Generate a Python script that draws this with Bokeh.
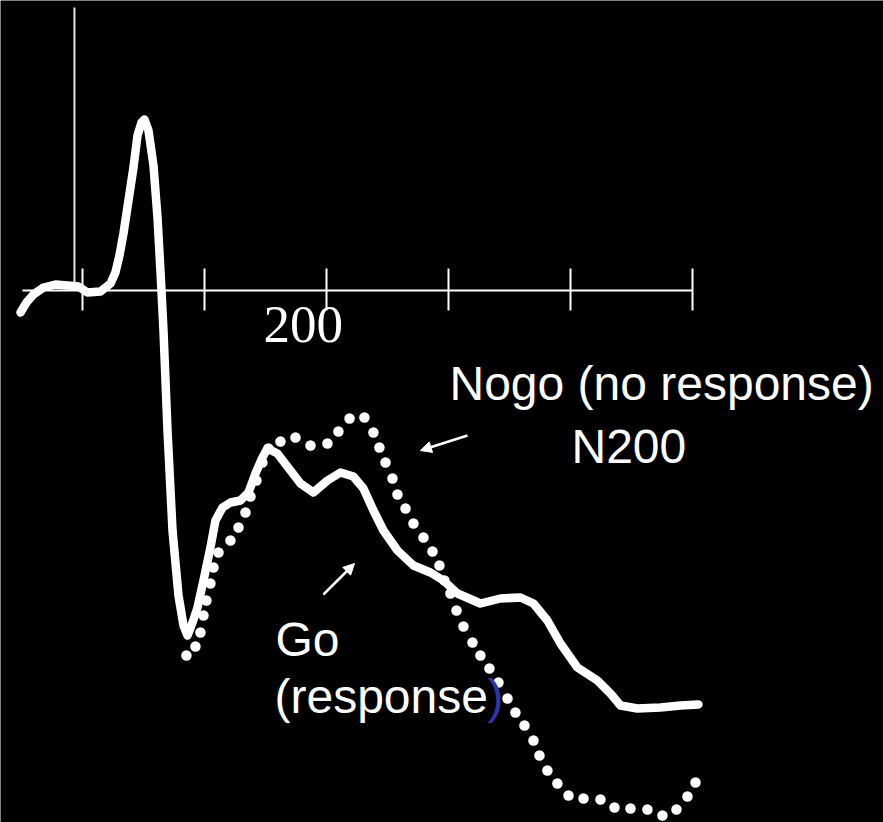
from bokeh.plotting import figure
from bokeh.models import (Range1d, LinearAxis, FixedTicker, Label, Arrow,
                          NormalHead, CustomLabelingPolicy)
from bokeh.embed import file_html
from bokeh.resources import INLINE

# Grand-average ERP waveforms (time in ms from stimulus onset, amplitude in µV)
time_go = [-50.8, -45.9, -40.2, -32.0, -22.1, -12.3, -3.3, 4.1, 14.8, 23.0,
           27.0, 30.3, 33.6, 37.7, 41.8, 45.1, 48.4, 50.8, 54.1, 58.2, 61.5,
           63.9, 66.4, 69.7, 73.8, 78.7, 82.8, 86.1, 90.2, 94.3, 99.2, 104.9,
           109.0, 114.8, 121.3, 129.5, 136.1, 141.8, 147.5, 151.6, 159.8,
           170.5, 178.7, 189.3, 200.8, 211.5, 222.1, 230.3, 238.5, 246.7,
           258.2, 271.3, 285.2, 295.9, 307.4, 326.2, 342.6, 359.0, 369.7,
           381.1, 391.8, 405.7, 422.1, 432.8, 441.0, 454.9, 473.8, 490.2,
           504.9]
go_uv = [-0.88, -0.48, -0.16, 0.12, 0.24, 0.20, 0.16, -0.08, -0.04, 0.28,
         0.72, 1.40, 2.28, 3.60, 4.92, 6.20, 6.72, 6.84, 6.40, 5.00, 2.92,
         0.80, -1.60, -5.60, -9.60, -12.20, -13.40, -13.80, -13.28, -12.68,
         -11.60, -10.28, -9.20, -8.68, -8.48, -8.40, -8.08, -7.32, -6.68,
         -6.32, -6.52, -7.20, -7.72, -8.08, -7.60, -7.28, -7.44, -7.92,
         -8.80, -9.60, -10.40, -11.00, -11.28, -11.60, -12.12, -12.52,
         -12.32, -12.28, -12.52, -13.20, -14.12, -15.08, -15.60, -16.12,
         -16.60, -16.72, -16.68, -16.60, -16.56]

time_nogo = [85.2, 92.6, 96.7, 99.2, 101.6, 104.9, 107.4, 111.5, 121.3, 127.9,
             133.6, 137.7, 142.6, 147.5, 152.5, 162.3, 174.6, 186.9, 200.8,
             209.8, 218.9, 231.1, 238.5, 243.4, 248.4, 254.1, 258.2, 264.8,
             271.3, 279.5, 286.9, 292.6, 296.7, 301.6, 306.6, 312.3, 319.7,
             326.2, 333.6, 341.0, 348.4, 354.9, 362.3, 369.7, 374.6, 381.1,
             389.3, 398.4, 410.7, 424.6, 436.1, 449.2, 463.1, 475.4, 486.9,
             495.9, 502.5]
nogo_uv = [-14.60, -14.24, -13.68, -13.00, -12.40, -11.72, -11.08, -10.48,
           -10.00, -9.48, -8.88, -8.24, -7.60, -6.88, -6.32, -6.04, -5.88,
           -6.20, -6.12, -5.64, -5.12, -5.08, -5.68, -6.28, -6.88, -7.52,
           -8.16, -8.72, -9.32, -9.88, -10.44, -11.00, -11.60, -12.12, -12.80,
           -13.44, -14.08, -14.60, -15.12, -15.68, -16.32, -16.88, -17.40,
           -18.00, -18.60, -19.20, -19.72, -20.20, -20.32, -20.36, -20.68,
           -20.72, -20.76, -21.00, -20.76, -20.24, -19.68]

time_ticks = [0, 100, 200, 300, 400, 500]
labelled_tick = "200"

W, H = 883, 822
p = figure(width=W, height=H, x_range=Range1d(-67.2, 656.6),
           y_range=Range1d(-21.28, 11.6), x_axis_type=None, y_axis_type=None,
           min_border=0, toolbar_location=None, output_backend="svg",
           background_fill_color="black", border_fill_color="black",
           outline_line_color=None)

# time axis drawn through zero amplitude, ticks crossing the line;
# its own tick labels are suppressed, only "200" is written below
xaxis = LinearAxis(fixed_location=0, bounds=(-49, 500),
                   ticker=FixedTicker(ticks=time_ticks, minor_ticks=[]),
                   axis_line_color="white", axis_line_width=2,
                   major_tick_line_color="white", major_tick_line_width=2,
                   major_tick_in=22, major_tick_out=20,
                   major_label_policy=CustomLabelingPolicy(code="return"))
p.add_layout(xaxis, "below")

# stimulus onset marker
p.segment(x0=[-6.6], y0=[0], x1=[-6.6], y1=[11.32],
          line_color="#e8e8e8", line_width=2)

# Nogo condition (dotted) under the Go condition (solid)
p.scatter(time_nogo, nogo_uv, size=10.5, fill_color="white", line_color=None)
p.line(time_go, go_uv, line_color="white", line_width=8.5,
       line_join="round", line_cap="round")

p.add_layout(Label(x=263, y=H - 343 + 19, x_units="screen", y_units="screen",
                   text=labelled_tick, text_font="Liberation Serif",
                   text_font_size="53px", text_color="white",
                   text_baseline="alphabetic"))

text_style = dict(x_units="screen", y_units="screen", text_font="Liberation Sans",
                  text_font_size="48px", text_color="white",
                  text_baseline="alphabetic")
p.add_layout(Label(x=449, y=H - 402 + 19, text="Nogo (no response)", **text_style))
p.add_layout(Label(x=571, y=H - 465 + 19, text="N200", **text_style))
p.add_layout(Label(x=275, y=H - 658 + 19, text="Go", **text_style))
p.add_layout(Label(x=274, y=H - 715 + 19, text="(response", **text_style))
blue_style = dict(text_style, text_color="#3434a8")
p.add_layout(Label(x=487, y=H - 715 + 19, text=")", **blue_style))

# pointers from the labels to the curves
for xs, ys, xe, ye in [(315.6, -5.8, 277.0, -6.4), (197.5, -12.16, 223.0, -10.92)]:
    p.add_layout(Arrow(x_start=xs, y_start=ys, x_end=xe, y_end=ye,
                       line_color="white", line_width=2.5,
                       end=NormalHead(size=11, fill_color="white",
                                      line_color="white")))

open("out.html", "w").write(file_html(p, INLINE))
